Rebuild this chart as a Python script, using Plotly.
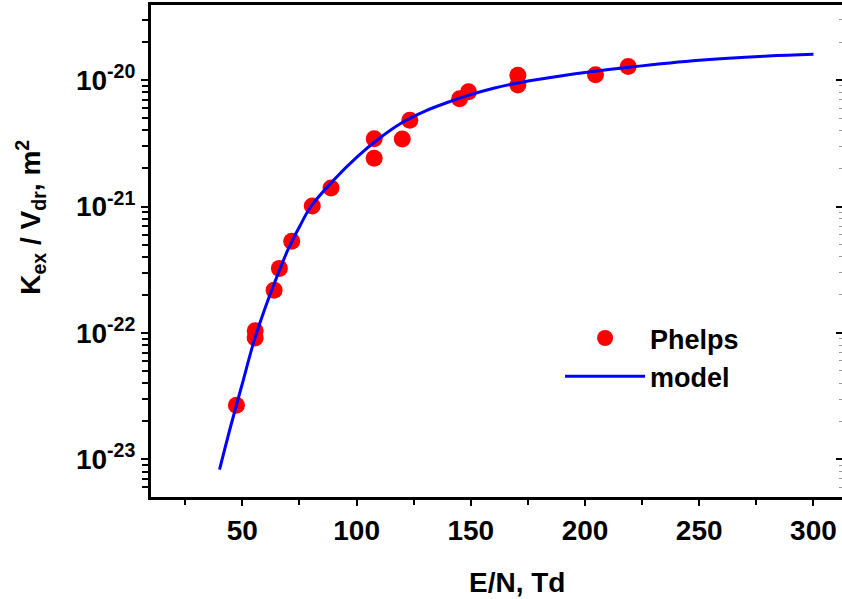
import plotly.graph_objects as go

# Phelps data points (E/N in Td, Kex/Vdr in m^2)
phelps_x = [47.4, 55.6, 55.6, 63.9, 66.2, 71.6, 80.6, 88.8, 107.7, 107.7,
            120.0, 123.3, 145.1, 149.0, 170.6, 170.6, 204.6, 218.9]
phelps_y = [2.68e-23, 1.04e-22, 9.1e-23, 2.18e-22, 3.24e-22, 5.31e-22,
            1.01e-21, 1.40e-21, 3.44e-21, 2.41e-21, 3.42e-21, 4.82e-21,
            7.11e-21, 8.07e-21, 1.09e-20, 9.13e-21, 1.10e-20, 1.28e-20]

# Model curve
model_x = [40, 45, 50, 55, 60, 65, 70, 75, 80, 90, 100, 110, 120, 130, 140,
           150, 160, 170, 180, 190, 200, 220, 250, 280, 300]
model_y = [8.3e-24, 1.86e-23, 3.98e-23, 8.5e-23, 1.58e-22, 2.75e-22,
           4.57e-22, 6.92e-22, 1.0e-21, 1.62e-21, 2.45e-21, 3.47e-21,
           4.62e-21, 5.69e-21, 6.68e-21, 7.67e-21, 8.61e-21, 9.44e-21,
           1.016e-20, 1.084e-20, 1.148e-20, 1.268e-20, 1.435e-20, 1.55e-20, 1.60e-20]

y_tickvals = [1e-23, 1e-22, 1e-21, 1e-20]
y_ticktext = ["10<sup>-23</sup>", "10<sup>-22</sup>", "10<sup>-21</sup>", "10<sup>-20</sup>"]

FONT = "Liberation Sans, Arial, sans-serif"
bold = dict(family=FONT, size=27, color="black", weight=700)

fig = go.Figure()
fig.add_trace(go.Scatter(x=phelps_x, y=phelps_y, mode="markers", name="Phelps",
                         marker=dict(color="#ff0000", size=17, line=dict(width=0))))
fig.add_trace(go.Scatter(x=model_x, y=model_y, mode="lines", name="model",
                         line=dict(color="#0000ff", width=3, shape="spline", smoothing=1)))
# invisible helper so the right-hand (mirror) axis is drawn
fig.add_trace(go.Scatter(x=model_x, y=model_y, mode="lines", yaxis="y2", showlegend=False,
                         hoverinfo="skip", opacity=0, line=dict(width=0)))

yrange = [-23.298, -19.406]

fig.update_layout(
    width=842, height=599,
    margin=dict(l=151, r=0, t=5, b=102, autoexpand=False),
    paper_bgcolor="white", plot_bgcolor="white",
    font=bold,
    showlegend=True,
    legend=dict(x=0.592, y=0.372, xanchor="left", yanchor="top",
                bgcolor="rgba(0,0,0,0)", font=dict(family=FONT, size=27, color="black", weight=700),
                itemwidth=80, tracegroupgap=0),
    xaxis=dict(range=[10, 312.5], tick0=0, dtick=50, showgrid=False, zeroline=False,
               automargin=False,
               showline=True, linecolor="black", linewidth=3, mirror=True,
               ticks="outside", ticklen=6, tickwidth=2, tickcolor="black",
               tickfont=dict(family=FONT, size=28, color="black", weight=700),
               minor=dict(tick0=0, dtick=25, ticks="outside", ticklen=5, tickwidth=2, tickcolor="black")),
    yaxis=dict(type="log", range=yrange, showgrid=False, zeroline=False,
               automargin=False,
               showline=True, linecolor="black", linewidth=3,
               tickvals=y_tickvals, ticktext=y_ticktext,
               ticks="outside", ticklen=7, tickwidth=2, tickcolor="black",
               tickfont=dict(family=FONT, size=28, color="black", weight=700),
               minor=dict(dtick="D1", ticks="outside", ticklen=6, tickwidth=2, tickcolor="black")),
    yaxis2=dict(type="log", range=yrange, overlaying="y", side="right", showgrid=False,
                automargin=False,
                zeroline=False, showline=True, linecolor="#aaaaaa", linewidth=1,
                tickvals=y_tickvals, showticklabels=False,
                ticks="inside", ticklen=6, tickwidth=2, tickcolor="black",
                minor=dict(dtick="D1", ticks="inside", ticklen=3, tickwidth=1, tickcolor="#999999")),
    annotations=[
        dict(text="K<sub>ex</sub> / V<sub>dr</sub>, m<sup>2</sup>", xref="paper", yref="paper",
             x=-0.174, y=0.569, textangle=-90, showarrow=False,
             font=dict(family=FONT, size=28, color="black", weight=700),
             xanchor="center", yanchor="middle"),
        dict(text="E/N, Td", xref="paper", yref="paper", x=0.530, y=-0.173,
             showarrow=False, font=dict(family=FONT, size=28, color="black", weight=700),
             xanchor="center", yanchor="middle"),
    ],
)

fig.write_html("out.html", config={"displayModeBar": False},
               post_script="document.body.style.margin='0';document.body.style.padding='0';")
